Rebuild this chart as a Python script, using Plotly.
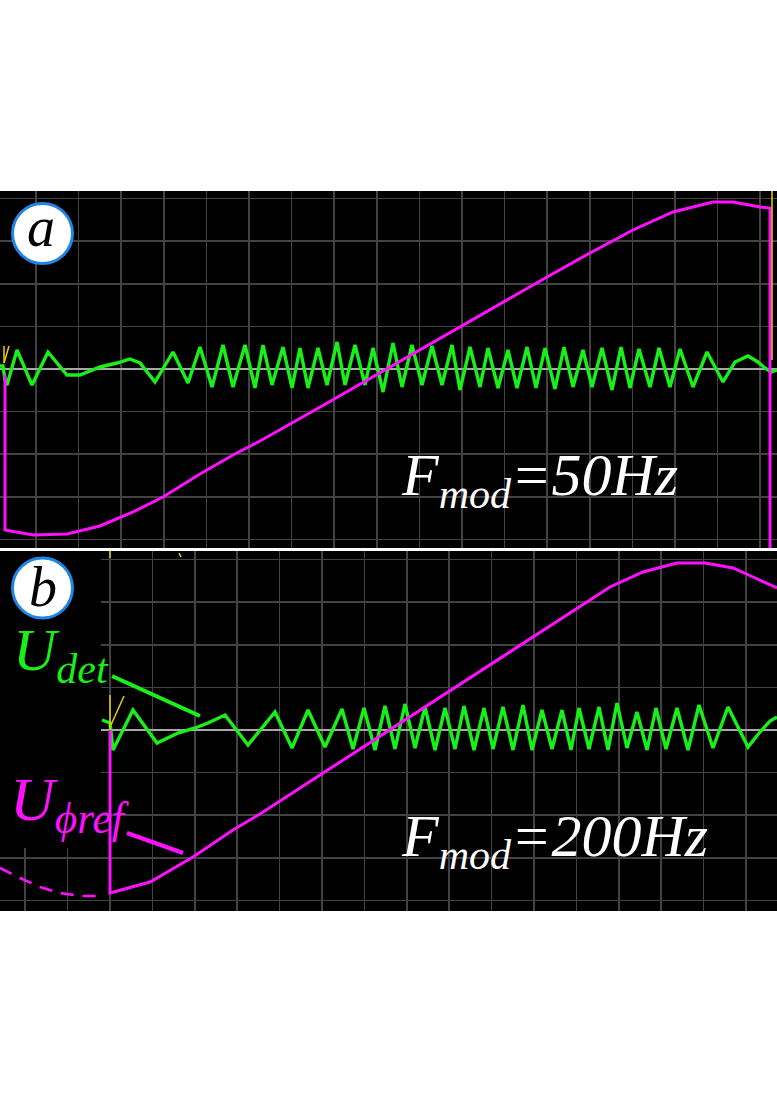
import plotly.graph_objects as go

W, H = 777, 1106

# ---------------- data (time in screen samples, voltage in screen units, 42.6 units/div) -------------
# panel a: F_mod = 50 Hz
a_det_t = [0, 3, 5, 7, 17, 32, 48, 67, 80, 100, 117, 130, 140, 155, 173, 188, 200, 212, 223, 233, 245, 255,
           263, 272, 283, 292, 300, 308, 318, 327, 337, 345, 355, 365, 373, 383, 393, 402, 412, 422, 432, 442,
           452, 460, 470, 480, 488, 498, 508,
           517, 527, 536, 545, 555, 564, 573, 583, 592, 602, 612, 621, 630, 639, 650, 659, 670, 680, 693, 707, 723,
           735, 748, 758, 765, 771, 777]
a_det_v = [3, 3, -11, -16, 19, -16, 17, -6, -6, 2, 6, 10, 6, -13, 17, -14, 22, -18, 24, -18, 24, -19,
           24, -16, 22, -19, 21, -19, 21, -16, 27, -16, 24, -16, 21, -23, 26, -18, 24, -16, 23, -16,
           24, -21, 22, -18, 21, -19, 19,
           -19, 22, -19, 21, -20, 22, -18, 19, -18, 21, -21, 22, -19, 20, -18, 21, -18, 20, -18, 17, -13,
           7, 13, 7, 1, -3, -1]
a_ref_t = [5, 5, 33, 67, 100, 133, 163, 200, 233, 260, 322, 400, 455, 500, 547, 590, 633, 673, 713, 733, 760, 770, 770]
a_ref_v = [-6, -161, -166, -165, -157, -143, -128, -105, -86, -72, -37, 8, 39, 65, 92, 116, 139, 157, 167, 167, 162, 161, -179]
a_trig_t = [4, 4, None, 4, 9, None, 772, 772]
a_trig_v = [6, 23, None, 6, 23, None, 178, 9]

# panel b: F_mod = 200 Hz
b_det_t = [102, 110, 113, 133, 157, 178, 195, 208, 225, 248, 275, 292, 308, 325,
           342, 353, 364, 375, 385, 395, 405, 415, 425, 435, 445, 455, 464, 474, 484, 493, 503, 513,
           523, 532, 542, 552, 562, 571, 579, 589, 599, 608, 617, 627, 637, 647, 656, 666, 677, 688,
           699, 713, 728, 748, 760, 770, 777]
b_det_v = [10, 7, -20, 20, -13, -3, 2, 7, 15, -15, 18, -18, 20, -17,
           21, -19, 22, -20, 24, -19, 26, -18, 23, -20, 22, -19, 24, -20, 22, -19, 23, -20,
           25, -20, 20, -19, 20, -20, 22, -19, 23, -20, 27, -18, 18, -20, 22, -19, 22, -20,
           25, -18, 23, -17, -2, 9, 13]
b_ref_t = [110, 110, 150, 193, 233, 260, 300, 400, 500, 533, 577, 610, 643, 677, 705, 733, 753, 777]
b_ref_v = [0, -163, -152, -127, -100, -84, -58, 7, 72, 93, 122, 143, 158, 167, 167, 162, 153, 142]
b_ghost_t = [0, 20, 40, 60, 80, 100]
b_ghost_v = [-138, -148, -157, -163, -166, -166]
b_trig_t = [110, 110, None, 111, 124, None, 110, 110, None, 179, 181]
b_trig_v = [35, 0, None, 5, 34, None, 179, 172, None, 177, 173]

GREEN = "#19f019"
MAG = "#ff10ff"
YEL = "#e8d000"
GRID = "#424242"


def py2paper(py):
    return 1 - py / H


def px2paper(px):
    return px / W


fig = go.Figure()

fig.add_trace(go.Scatter(x=a_det_t, y=a_det_v, mode="lines", line=dict(color=GREEN, width=3.4),
                         xaxis="x", yaxis="y", hoverinfo="skip"))
fig.add_trace(go.Scatter(x=a_ref_t, y=a_ref_v, mode="lines", line=dict(color=MAG, width=3),
                         xaxis="x", yaxis="y", hoverinfo="skip"))
fig.add_trace(go.Scatter(x=a_trig_t, y=a_trig_v, mode="lines", line=dict(color=YEL, width=1.5),
                         xaxis="x", yaxis="y", hoverinfo="skip", connectgaps=False))

fig.add_trace(go.Scatter(x=b_det_t, y=b_det_v, mode="lines", line=dict(color=GREEN, width=3.4),
                         xaxis="x2", yaxis="y2", hoverinfo="skip"))
fig.add_trace(go.Scatter(x=b_ref_t, y=b_ref_v, mode="lines", line=dict(color=MAG, width=3),
                         xaxis="x2", yaxis="y2", hoverinfo="skip"))
fig.add_trace(go.Scatter(x=b_ghost_t, y=b_ghost_v, mode="lines",
                         line=dict(color=MAG, width=2.6, dash="13px,9px"),
                         xaxis="x2", yaxis="y2", hoverinfo="skip"))
fig.add_trace(go.Scatter(x=b_trig_t, y=b_trig_v, mode="lines", line=dict(color=YEL, width=1.5),
                         xaxis="x2", yaxis="y2", hoverinfo="skip", connectgaps=False))

axcommon = dict(showticklabels=False, ticks="", showline=False, showgrid=True,
                gridcolor=GRID, gridwidth=1.5, fixedrange=True)

fig.update_layout(
    width=W, height=H, autosize=False,
    margin=dict(l=0, r=0, t=0, b=0, pad=0),
    paper_bgcolor="white", plot_bgcolor="black",
    showlegend=False,
    xaxis=dict(domain=[0, 1], range=[0, 777], tick0=36, dtick=42.6, zeroline=False,
               anchor="y", **axcommon),
    yaxis=dict(domain=[py2paper(548), py2paper(191)], range=[-179, 178], tick0=0, dtick=42.6,
               zeroline=True, zerolinecolor="#a8a8a8", zerolinewidth=1.2, anchor="x", **axcommon),
    xaxis2=dict(domain=[0, 1], range=[0, 777], tick0=110, dtick=42.4, zeroline=False,
                anchor="y2", **axcommon),
    yaxis2=dict(domain=[py2paper(911), py2paper(551)], range=[-181, 179], tick0=0, dtick=42.6,
                zeroline=True, zerolinecolor="#a8a8a8", zerolinewidth=1.2, anchor="x2", **axcommon),
)

shapes = [
    # black patch covering the left part of panel b
    dict(type="rect", xref="x2", yref="y2", x0=0, x1=101, y0=-118, y1=179,
         fillcolor="black", line=dict(width=0), layer="above"),
    # label circles
    dict(type="circle", xref="x", yref="y", x0=12.5, x1=72.5, y0=105.5, y1=165.5,
         fillcolor="white", line=dict(color="#1f86e8", width=3), layer="above"),
    dict(type="circle", xref="x2", yref="y2", x0=12.5, x1=72.5, y0=112, y1=172,
         fillcolor="white", line=dict(color="#1f86e8", width=3), layer="above"),
    # pointer lines
    dict(type="line", xref="x2", yref="y2", x0=112, y0=54, x1=200, y1=14,
         line=dict(color=GREEN, width=4), layer="above"),
    dict(type="line", xref="x2", yref="y2", x0=127, y0=-103, x1=183, y1=-123,
         line=dict(color=MAG, width=4), layer="above"),
]
fig.update_layout(shapes=shapes)

SERIF = "Liberation Serif"


def ann(text, px, py, size, color, xanchor="left"):
    return dict(text="<i>" + text + "</i>", x=px2paper(px), y=py2paper(py), xref="paper", yref="paper",
                xanchor=xanchor, yanchor="middle", showarrow=False,
                font=dict(family=SERIF, size=size, color=color), borderpad=0)


annotations = [
    ann("a", 41, 227, 56, "black", "center"),
    ann("b", 43, 587, 56, "black", "center"),
    ann("F<sub>mod</sub>=50Hz", 400, 480, 60, "white"),
    ann("F<sub>mod</sub>=200Hz", 400, 840, 60, "white"),
    ann("U<sub>det</sub>", 12, 654, 60, GREEN),
    ann("U<sub>\u03d5ref</sub>", 9, 803, 62, MAG),
]
fig.update_layout(annotations=annotations)

fig.write_html(
    "out.html",
    config={"displayModeBar": False, "staticPlot": True},
    post_script="document.body.style.margin='0';document.body.style.padding='0';"
                "document.documentElement.style.overflow='hidden';",
)
